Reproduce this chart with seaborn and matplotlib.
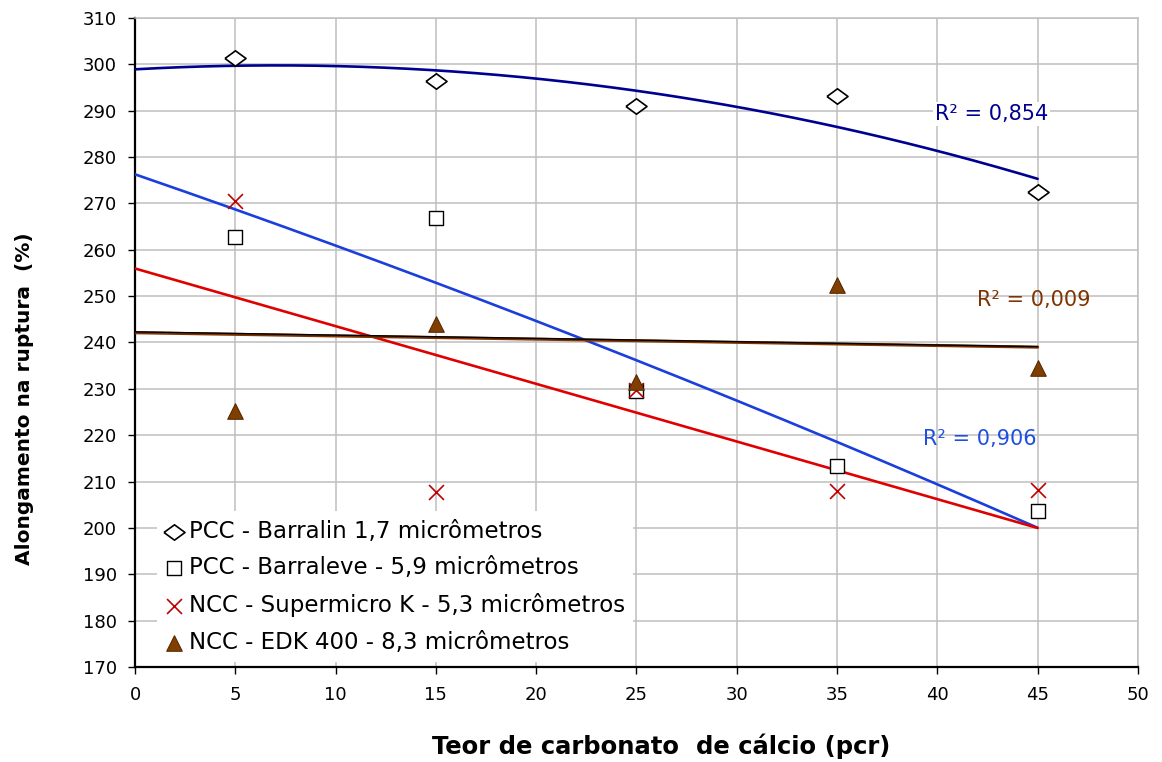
import numpy as np
import pandas as pd
import matplotlib
matplotlib.use("Agg")
import matplotlib.pyplot as plt
import seaborn as sns

# teor de carbonato (pcr)
teor = [5, 15, 25, 35, 45]

# alongamento na ruptura (%)
barralin = [301.4, 296.4, 291.0, 293.2, 272.5]
barraleve = [262.8, 266.9, 229.5, 213.4, 203.7]
supermicro = [270.5, 207.8, 229.8, 208.0, 208.2]
edk400 = [225.2, 244.0, 231.5, 252.4, 234.5]

labels = ["PCC - Barralin 1,7 micrômetros",
          "PCC - Barraleve - 5,9 micrômetros",
          "NCC - Supermicro K - 5,3 micrômetros",
          "NCC - EDK 400 - 8,3 micrômetros"]

# linha de tendencia da serie EDK (coeficientes, grau 1)
edk_trend = [-0.069, 242.1]
edk_trend_black = [-0.071, 242.3]

r2_texts = ["R² = 0,854", "R² = 0,906", "R² = 0,009"]

df = pd.DataFrame({"teor": teor * 4,
                   "along": barralin + barraleve + supermicro + edk400,
                   "serie": np.repeat(labels, 5)})

sns.set_style("white")
plt.rcParams["font.family"] = ["DejaVu Sans"]
plt.rcParams["text.color"] = "black"

fig = plt.figure(figsize=(11.62, 7.62), dpi=100)
ax = fig.add_axes([0.1162, 0.1247, 0.8631, 0.8517])

# linhas de tendencia (ajuste polinomial como no Excel)
x_fit = np.linspace(0, 45, 200)
fits = [(barralin, 2, "#000090"), (barraleve, 2, "#1A3FDB"), (supermicro, 1, "#E00000")]
for vals, order, color in fits:
   coef = np.polyfit(teor, vals, order)
   sns.lineplot(x=x_fit, y=np.polyval(coef, x_fit), color=color, lw=1.9, ax=ax, zorder=3)
sns.lineplot(x=x_fit, y=np.polyval(edk_trend, x_fit), color="#7F3300", lw=2.2, ax=ax, zorder=3)
sns.lineplot(x=x_fit, y=np.polyval(edk_trend_black, x_fit), color="black", lw=1.0, ax=ax, zorder=3)

# pontos
diamond = [(-1.3, 0), (0, 0.95), (1.3, 0), (0, -0.95), (-1.3, 0)]
styles = [
   dict(marker=diamond, s=230, facecolor="white", edgecolor="black", linewidth=1.2),
   dict(marker="s", s=100, facecolor="white", edgecolor="black", linewidth=1.0),
   dict(marker="x", s=115, color="#C00000", linewidth=1.2),
   dict(marker="^", s=125, facecolor="#7F3F00", edgecolor="#5A2A00", linewidth=0.8),
]
for lab, st in zip(labels, styles):
   sub = df[df["serie"] == lab]
   sns.scatterplot(data=sub, x="teor", y="along", label=lab, ax=ax, zorder=5, **st)

# rotulos R²
ax.text(42.7, 289.2, r2_texts[0], color="#000090", fontsize=15, ha="center", va="center",
        bbox=dict(facecolor="white", edgecolor="none", pad=1.5), zorder=4)
ax.text(42.1, 219.2, r2_texts[1], color="#1F4FE0", fontsize=15, ha="center", va="center", zorder=4)
ax.text(44.8, 249.2, r2_texts[2], color="#7F3300", fontsize=15, ha="center", va="center", zorder=4)

ax.set_xlim(0, 50)
ax.set_ylim(170, 310)
ax.set_xticks(range(0, 51, 5))
ax.set_yticks(range(170, 311, 10))
ax.grid(True, color="#BFBFBF", lw=1.1)
ax.set_axisbelow(True)

for side in ["left", "bottom"]:
   ax.spines[side].set_color("black")
   ax.spines[side].set_linewidth(1.6)
for side in ["top", "right"]:
   ax.spines[side].set_color("#BFBFBF")
   ax.spines[side].set_linewidth(1.1)

ax.tick_params(axis="both", which="major", direction="out", length=5, width=1,
               color="black", labelcolor="black", labelsize=13, left=True, bottom=True)
ax.tick_params(axis="y", pad=8)
ax.tick_params(axis="x", pad=9)

ax.set_xlabel("Teor de carbonato  de cálcio (pcr)", fontsize=17.5, fontweight="bold", color="black")
ax.set_ylabel("Alongamento na ruptura  (%)", fontsize=14.5, fontweight="bold", color="black")
ax.xaxis.set_label_coords(0.525, -0.103)
ax.yaxis.set_label_coords(-0.101, 0.414)

leg = ax.legend(loc="lower left", bbox_to_anchor=(0.022, 0.008), fontsize=16.5, frameon=True,
                facecolor="white", edgecolor="none", framealpha=1, fancybox=False,
                handlelength=0.8, handletextpad=0.25, labelspacing=0.6, borderpad=0.35,
                borderaxespad=0.0)
leg.set_zorder(6)

fig.savefig("out.png", dpi=100)
